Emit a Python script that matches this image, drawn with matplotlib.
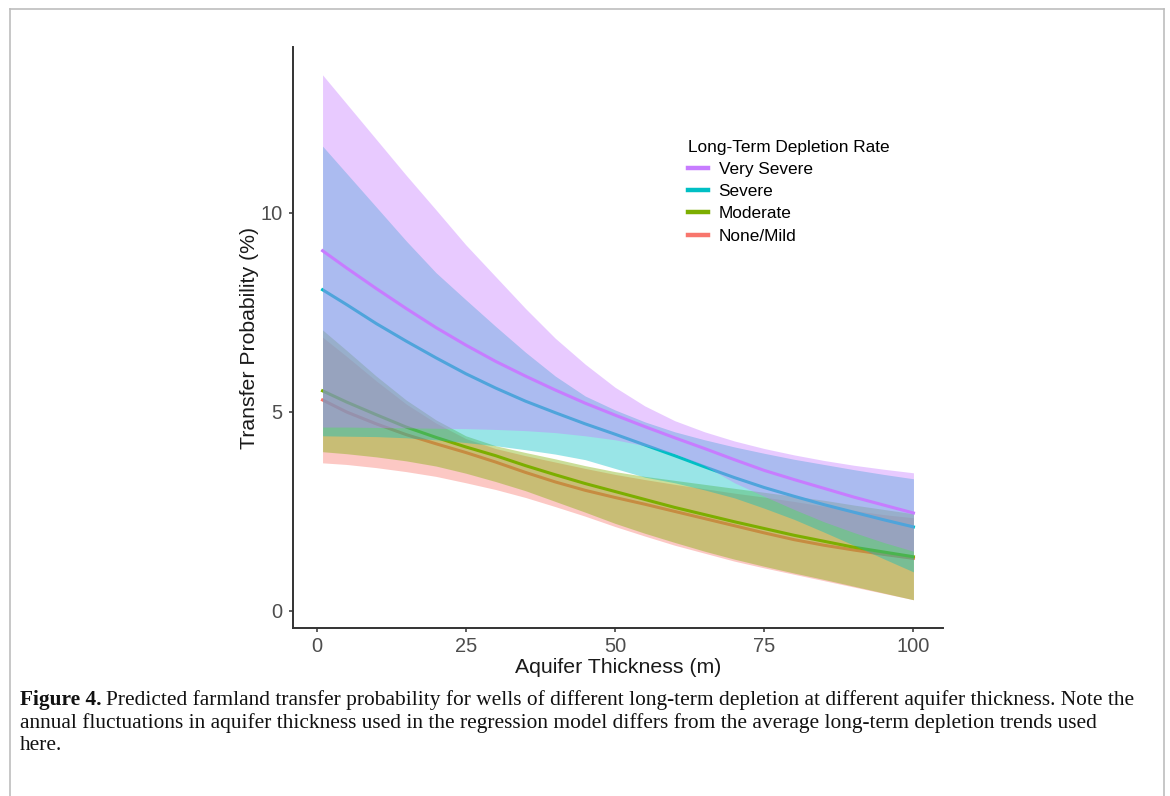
import matplotlib
matplotlib.use('Agg')
import matplotlib.pyplot as plt
from matplotlib.lines import Line2D

plt.rcParams['font.family'] = ['Liberation Sans', 'DejaVu Sans']

# aquifer thickness (m) at which the curves were read
thickness = [1, 5, 10, 15, 20, 25, 30, 35, 40, 45, 50,
             55, 60, 65, 70, 75, 80, 85, 90, 95, 100]

# None/Mild
mild_fit = [5.30, 5.00, 4.70, 4.43, 4.20, 3.98, 3.74, 3.48, 3.24, 3.03, 2.85,
            2.68, 2.50, 2.32, 2.14, 1.96, 1.79, 1.65, 1.53, 1.42, 1.32]
mild_lo = [3.72, 3.68, 3.60, 3.50, 3.38, 3.22, 3.05, 2.85, 2.62, 2.38, 2.12,
           1.88, 1.65, 1.45, 1.25, 1.08, 0.92, 0.76, 0.60, 0.44, 0.28]
mild_hi = [6.88, 6.40, 5.78, 5.20, 4.72, 4.33, 4.08, 3.90, 3.74, 3.58, 3.43,
           3.30, 3.18, 3.07, 2.96, 2.86, 2.75, 2.63, 2.52, 2.42, 2.34]

# Moderate
mod_fit = [5.53, 5.25, 4.93, 4.62, 4.36, 4.12, 3.90, 3.65, 3.42, 3.20, 3.00,
           2.80, 2.60, 2.42, 2.24, 2.07, 1.90, 1.75, 1.60, 1.48, 1.36]
mod_lo = [4.00, 3.95, 3.87, 3.77, 3.64, 3.46, 3.25, 3.02, 2.75, 2.48, 2.20,
          1.95, 1.72, 1.50, 1.30, 1.12, 0.95, 0.79, 0.62, 0.45, 0.28]
mod_hi = [7.06, 6.55, 5.90, 5.30, 4.80, 4.40, 4.15, 3.98, 3.82, 3.65, 3.50,
          3.38, 3.28, 3.18, 3.08, 2.98, 2.88, 2.78, 2.66, 2.55, 2.44]

# Severe
sev_fit = [8.07, 7.70, 7.22, 6.78, 6.36, 5.96, 5.60, 5.27, 4.98, 4.70, 4.44,
           4.17, 3.90, 3.62, 3.35, 3.10, 2.88, 2.67, 2.48, 2.29, 2.11]
sev_lo = [4.40, 4.39, 4.38, 4.35, 4.30, 4.23, 4.15, 4.05, 3.94, 3.80, 3.58,
          3.36, 3.22, 3.04, 2.84, 2.58, 2.30, 1.98, 1.65, 1.31, 0.98]
sev_hi = [11.68, 11.00, 10.15, 9.30, 8.50, 7.82, 7.15, 6.50, 5.90, 5.40, 5.05,
          4.75, 4.50, 4.30, 4.12, 3.96, 3.81, 3.68, 3.55, 3.43, 3.32]

# Very Severe
vsev_fit = [9.05, 8.62, 8.10, 7.60, 7.12, 6.68, 6.27, 5.90, 5.55, 5.22, 4.92,
            4.63, 4.35, 4.08, 3.80, 3.53, 3.30, 3.08, 2.86, 2.66, 2.46]
vsev_lo = [4.62, 4.62, 4.61, 4.60, 4.59, 4.58, 4.56, 4.53, 4.48, 4.40, 4.30,
           4.15, 3.95, 3.65, 3.22, 2.88, 2.55, 2.24, 1.97, 1.72, 1.50]
vsev_hi = [13.47, 12.75, 11.85, 10.95, 10.08, 9.20, 8.40, 7.60, 6.85, 6.20, 5.62,
           5.15, 4.78, 4.50, 4.27, 4.08, 3.92, 3.78, 3.66, 3.56, 3.47]

groups = ['None/Mild', 'Moderate', 'Severe', 'Very Severe']
colors = ['#F8766D', '#7CAE00', '#00BFC4', '#C77CFF']
fits = [mild_fit, mod_fit, sev_fit, vsev_fit]
lows = [mild_lo, mod_lo, sev_lo, vsev_lo]
highs = [mild_hi, mod_hi, sev_hi, vsev_hi]

fig = plt.figure(figsize=(11.7, 7.96), dpi=100)
ax = fig.add_axes([293 / 1170, 168 / 796, 650 / 1170, 581 / 796])

# ribbon then line for each group, later groups on top
for i, (name, col) in enumerate(zip(groups, colors)):
    ax.fill_between(thickness, lows[i], highs[i], color=col, alpha=0.4,
                    linewidth=0, zorder=2 + 2 * i)
    ax.plot(thickness, fits[i], color=col, lw=2.2, zorder=3 + 2 * i)

ax.set_xlim(-3.95, 104.95)
ax.set_ylim(-0.43, 14.17)
ax.set_xticks([0, 25, 50, 75, 100])
ax.set_yticks([0, 5, 10])

for s in ['top', 'right']:
    ax.spines[s].set_visible(False)
for s in ['left', 'bottom']:
    ax.spines[s].set_color('#333333')
    ax.spines[s].set_linewidth(1.4)
ax.tick_params(colors='#333333', length=3, width=1.1, labelsize=14.4,
               labelcolor='#4D4D4D')
ax.tick_params(axis='y', pad=4.3)
ax.tick_params(axis='x', pad=3.6)

ax.set_xlabel('Aquifer Thickness (m)', fontsize=15.3, color='#1A1A1A')
ax.set_ylabel('Transfer Probability (%)', fontsize=15.3, color='#1A1A1A')
ax.xaxis.set_label_coords(0.5, -30 / 581)
ax.yaxis.set_label_coords((259 - 293) / 650, 0.5)

handles = [Line2D([], [], color=c, lw=3.2) for c in colors][::-1]
leg = fig.legend(handles, groups[::-1], title='Long-Term Depletion Rate',
                 loc='upper left', bbox_to_anchor=(679 / 1170, 1 - 131 / 796),
                 frameon=False, fontsize=12.4, title_fontsize=12.4,
                 alignment='left', borderpad=0, handlelength=1.2,
                 handletextpad=0.6, labelspacing=0.42)

# caption
cap_kw = dict(fontsize=15.4, family='Liberation Serif', color='#111111')
t1 = fig.text(20 / 1170, 1 - 700 / 796, 'Figure 4.', fontweight='bold',
              va='center', ha='left', **cap_kw)
fig.canvas.draw()
bb = t1.get_window_extent()
fig.text(bb.x1 / 1170 + 4 / 1170, 1 - 700 / 796,
         'Predicted farmland transfer probability for wells of different long-term '
         'depletion at different aquifer thickness. Note the',
         va='center', ha='left', **cap_kw)
fig.text(20 / 1170, 1 - 723 / 796,
         'annual fluctuations in aquifer thickness used in the regression model '
         'differs from the average long-term depletion trends used',
         va='center', ha='left', **cap_kw)
fig.text(20 / 1170, 1 - 746 / 796, 'here.', va='center', ha='left', **cap_kw)

# light frame around the figure
frame_kw = dict(color='#BDBDBD', lw=1.2, transform=fig.transFigure)
fig.add_artist(Line2D([10 / 1170, 10 / 1170], [0, 1 - 9 / 796], **frame_kw))
fig.add_artist(Line2D([1164 / 1170, 1164 / 1170], [0, 1 - 9 / 796], **frame_kw))
fig.add_artist(Line2D([10 / 1170, 1164 / 1170], [1 - 9 / 796, 1 - 9 / 796], **frame_kw))

fig.savefig('out.png', dpi=100)
